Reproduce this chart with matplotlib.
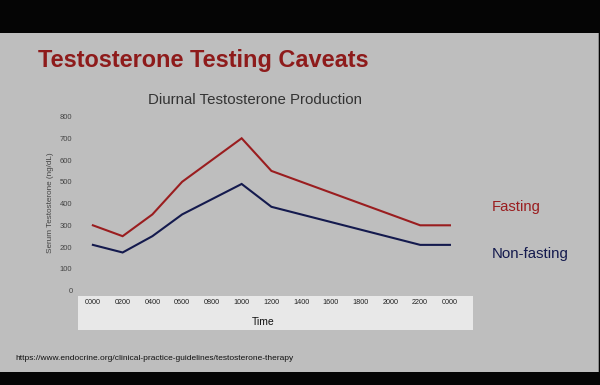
import matplotlib
matplotlib.use("Agg")
import matplotlib.pyplot as plt
from matplotlib.patches import Rectangle

hours = [0, 2, 4, 6, 10, 12, 22, 24]
fasting = [300, 250, 350, 500, 700, 550, 300, 300]
nonfasting = [210, 175, 250, 350, 490, 385, 210, 210]
tick_hours = [0, 2, 4, 6, 8, 10, 12, 14, 16, 18, 20, 22, 24]
tick_labels = ["0000", "0200", "0400", "0600", "0800", "1000", "1200",
               "1400", "1600", "1800", "2000", "2200", "0000"]
y_ticks = [0, 100, 200, 300, 400, 500, 600, 700, 800]

plt.rcParams['font.family'] = ['Liberation Sans', 'DejaVu Sans']

W, H = 600, 385
fig = plt.figure(figsize=(6, 3.85), dpi=100)
fig.patch.set_facecolor('#050505')

def fx(px):
    return px / W

def fy(py):
    return 1 - py / H

# slide background
fig.patches.append(Rectangle((0, fy(372)), fx(599), fy(32.5) - fy(372),
                             transform=fig.transFigure, facecolor='#bebebe',
                             edgecolor='none', zorder=-3))
# slide right edge
fig.patches.append(Rectangle((fx(598), fy(372)), fx(1.2), fy(32.5) - fy(372),
                             transform=fig.transFigure, facecolor='#8a8a8a',
                             edgecolor='none', zorder=-2))
# x-axis label box
fig.patches.append(Rectangle((fx(78), fy(330)), fx(473) - fx(78), fy(296) - fy(330),
                             transform=fig.transFigure, facecolor='#e8e8e8',
                             edgecolor='none', zorder=-1))

ax = fig.add_axes([fx(78), fy(296), fx(473) - fx(78), fy(110) - fy(296)])
ax.set_zorder(2)
ax.set_facecolor('none')
ax.plot(hours, fasting, color='#9a1d1f', lw=1.5, solid_joinstyle='miter')
ax.plot(hours, nonfasting, color='#141a4e', lw=1.5, solid_joinstyle='miter')
ax.set_xlim(-1.0, 25.55)
ax.set_ylim(-25, 830)
for s in ax.spines.values():
    s.set_visible(False)
ax.set_xticks(tick_hours)
ax.set_xticklabels(tick_labels, fontsize=5.2, color='#222222')
ax.set_yticks(y_ticks)
ax.set_yticklabels([str(v) for v in y_ticks], fontsize=5.5, color='#444444')
ax.tick_params(axis='both', length=0)
ax.tick_params(axis='x', pad=2.5)
ax.tick_params(axis='y', pad=4)
ax.set_ylabel('Serum Testosterone (ng/dL)', fontsize=5.9, color='#444444', labelpad=4)

fig.text(fx(38), fy(61), 'Testosterone Testing Caveats', fontsize=16.9,
         fontweight='bold', color='#8e1b1b', ha='left', va='center')
fig.text(fx(255), fy(100), 'Diurnal Testosterone Production', fontsize=10.8,
         color='#333333', ha='center', va='center')
fig.text(fx(263), fy(322), 'Time', fontsize=7.5, color='#111111', ha='center', va='center')
fig.text(fx(492), fy(207), 'Fasting', fontsize=10.7, color='#9a1d1f', ha='left', va='center')
fig.text(fx(492), fy(254), 'Non-fasting', fontsize=10.8, color='#141a4e', ha='left', va='center')
fig.text(fx(15), fy(358), 'https://www.endocrine.org/clinical-practice-guidelines/testosterone-therapy',
         fontsize=6.0, color='#111111', ha='left', va='center')

fig.savefig('out.png', dpi=100, facecolor=fig.get_facecolor())
